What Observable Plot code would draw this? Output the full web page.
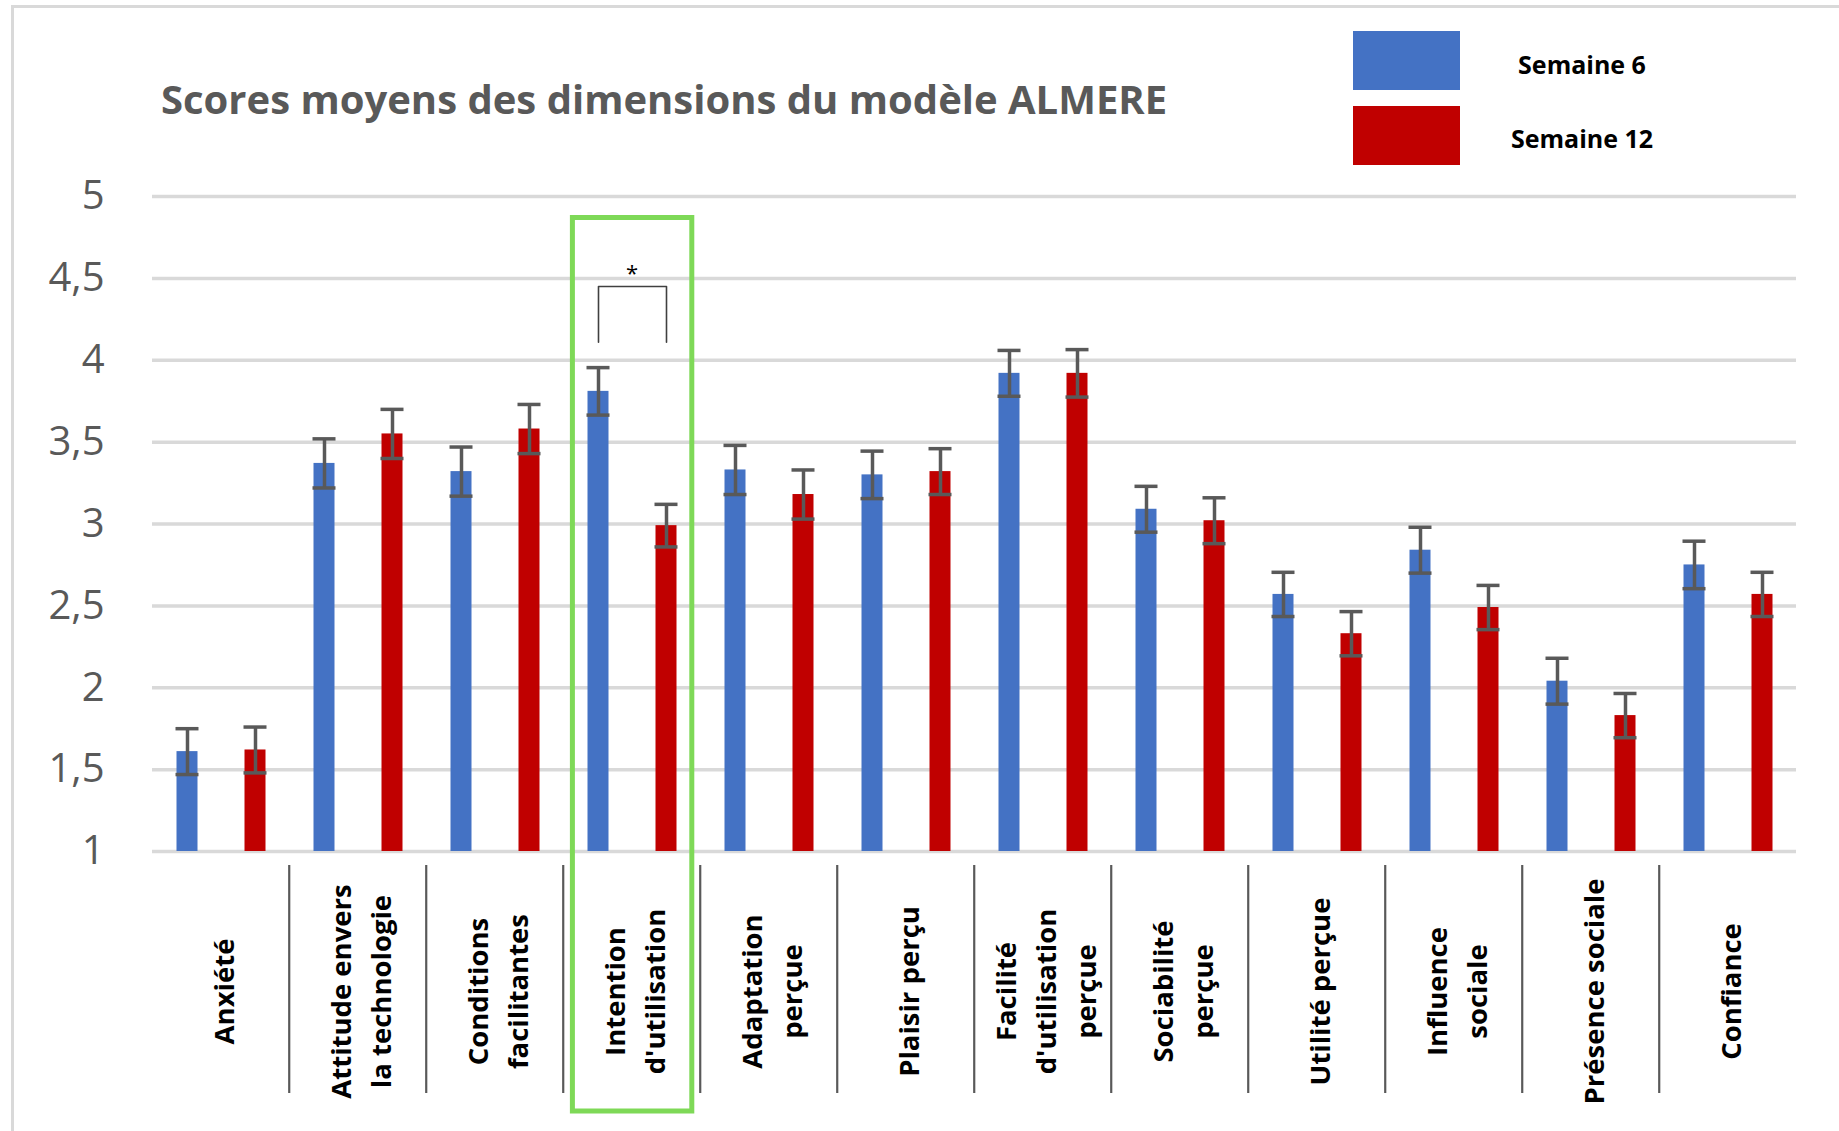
<!DOCTYPE html>
<html>
<head>
<meta charset="utf-8">
<script src="https://cdn.jsdelivr.net/npm/d3@7"></script>
<script src="https://cdn.jsdelivr.net/npm/@observablehq/plot@0.6"></script>
<style>
  html, body { margin: 0; padding: 0; background: #fff; }
  #wrap { position: relative; width: 1839px; height: 1131px; overflow: hidden; font-family: "Open Sans", sans-serif; }
  #border { position: absolute; left: 11px; top: 5px; width: 2000px; height: 2000px; border-top: 3px solid #d9d9d9; border-left: 3px solid #d9d9d9; }
  #chart { position: absolute; left: 0; top: 0; }
  #title { position: absolute; left: 161px; top: 71px; font-size: 40px; font-weight: 700; color: #595959; white-space: nowrap; }
  .sw { position: absolute; left: 1353px; width: 107px; height: 59px; }
  .lg { position: absolute; font-size: 25px; font-weight: 700; color: #000; white-space: nowrap; transform: translate(-50%, -50%); }
</style>
</head>
<body>
<div id="wrap">
  <div id="border"></div>
  <div id="chart"></div>
  <div id="title">Scores moyens des dimensions du modèle ALMERE</div>
  <div id="legend"></div>
</div>
<script>
// ---- Data ----
const categories = [
  "Anxiété", "Attitude envers la technologie", "Conditions facilitantes",
  "Intention d'utilisation", "Adaptation perçue", "Plaisir perçu",
  "Facilité d'utilisation perçue", "Sociabilité perçue", "Utilité perçue",
  "Influence sociale", "Présence sociale", "Confiance"
];
const categoryLabels = [
  "Anxiété", "Attitude envers\nla technologie", "Conditions\nfacilitantes",
  "Intention\nd'utilisation", "Adaptation\nperçue", "Plaisir perçu",
  "Facilité\nd'utilisation\nperçue", "Sociabilité\nperçue", "Utilité perçue",
  "Influence\nsociale", "Présence sociale", "Confiance"
];
const weeks = ["Semaine 6", "Semaine 12"];
const colors = ["#4472C4", "#C00000"];
const meansWeek6  = [1.61, 3.37, 3.32, 3.81, 3.33, 3.30, 3.92, 3.09, 2.57, 2.84, 2.04, 2.75];
const meansWeek12 = [1.62, 3.55, 3.58, 2.99, 3.18, 3.32, 3.92, 3.02, 2.33, 2.49, 1.83, 2.57];
const errWeek6    = [0.14, 0.15, 0.15, 0.145, 0.15, 0.145, 0.14, 0.14, 0.135, 0.14, 0.14, 0.145];
const errWeek12   = [0.14, 0.15, 0.15, 0.13, 0.15, 0.14, 0.145, 0.14, 0.135, 0.135, 0.135, 0.135];
const yTicks      = [1, 1.5, 2, 2.5, 3, 3.5, 4, 4.5, 5];
const yTickLabels = ["1", "1,5", "2", "2,5", "3", "3,5", "4", "4,5", "5"];
const highlighted = ["Intention d'utilisation"];
const bracketWeeks = ["Semaine 6", "Semaine 6", "Semaine 12", "Semaine 12"];
const bracketLevels = [4.11, 4.45, 4.45, 4.11];
const starLevel = [4.53];

// ---- Tables built from the arrays ----
const rows = categories.flatMap((cat, i) => [
  {cat, week: weeks[0], value: meansWeek6[i], err: errWeek6[i]},
  {cat, week: weeks[1], value: meansWeek12[i], err: errWeek12[i]}
]);
const bracket = bracketWeeks.map((w, i) => ({cat: highlighted[0], week: w, y: bracketLevels[i]}));
const star = starLevel.map(y => ({cat: highlighted[0], y}));

// ---- Layout (styles) ----
const W = 1839, H = 1131, ML = 148.5, MR = 40, MT = 196, MB = 280;
const facetWidth = (W - ML - MR) / categories.length;
const errColor = "#595959";

const chart = Plot.plot({
  width: W, height: H,
  marginTop: MT, marginBottom: MB, marginLeft: ML, marginRight: MR,
  style: {fontFamily: "Open Sans, sans-serif", background: "transparent", overflow: "visible"},
  fx: {domain: categories, padding: 0, axis: null, label: null},
  x: {domain: weeks, paddingInner: 0.695, paddingOuter: 0.3475, axis: null, label: null},
  y: {domain: [1, 5], label: null},
  color: {domain: weeks, range: colors},
  marks: [
    Plot.gridY(yTicks, {stroke: "#d9d9d9", strokeOpacity: 1, strokeWidth: 3.5}),
    Plot.axisY(yTicks, {
      tickSize: 0, tickPadding: 48, fontSize: 40, fill: "#595959", label: null,
      tickFormat: d => yTickLabels[yTicks.indexOf(d)]
    }),
    Plot.barY(rows, {fx: "cat", x: "week", y1: 1, y2: "value", fill: "week"}),
    Plot.ruleX(rows, {fx: "cat", x: "week", y1: d => d.value - d.err, y2: d => d.value + d.err, stroke: errColor, strokeWidth: 3.5}),
    Plot.tickY(rows, {fx: "cat", x: "week", y: d => d.value + d.err, stroke: errColor, strokeWidth: 3.5, insetLeft: -1, insetRight: -1}),
    Plot.tickY(rows, {fx: "cat", x: "week", y: d => d.value - d.err, stroke: errColor, strokeWidth: 3.5, insetLeft: -1, insetRight: -1}),
    Plot.line(bracket, {fx: "cat", x: "week", y: "y", stroke: "#404040", strokeWidth: 1.6}),
    Plot.text(star, {fx: "cat", y: "y", text: () => "*", fontSize: 22, fill: "#000"}),
    Plot.ruleX(categories.slice(1), {fx: d => d, x: null, dx: -facetWidth / 2, insetTop: 669, insetBottom: -242, stroke: "#595959", strokeWidth: 2.2}),
    Plot.text(categories, {
      fx: d => d, text: (d, i) => categoryLabels[i], frameAnchor: "bottom", dy: 140,
      rotate: -90, textAnchor: "middle", lineAnchor: "middle", fontSize: 27.5, fontWeight: 700,
      fill: "#000", lineHeight: 1.45
    }),
    Plot.rect(highlighted, {fx: d => d, insetLeft: 9.4, insetRight: 8.2, insetTop: 21.5, insetBottom: -260, fill: "none", stroke: "#7ed957", strokeWidth: 5})
  ]
});
document.getElementById("chart").appendChild(chart);

// ---- Legend ----
const legend = document.getElementById("legend");
const swTops = [31, 106];
const lgCenters = [63.6, 137.5];
weeks.forEach((w, i) => {
  const sw = document.createElement("div");
  sw.className = "sw"; sw.style.top = swTops[i] + "px"; sw.style.background = colors[i];
  legend.appendChild(sw);
  const lg = document.createElement("div");
  lg.className = "lg"; lg.style.left = "1582px"; lg.style.top = lgCenters[i] + "px"; lg.textContent = w;
  legend.appendChild(lg);
});
</script>
</body>
</html>
